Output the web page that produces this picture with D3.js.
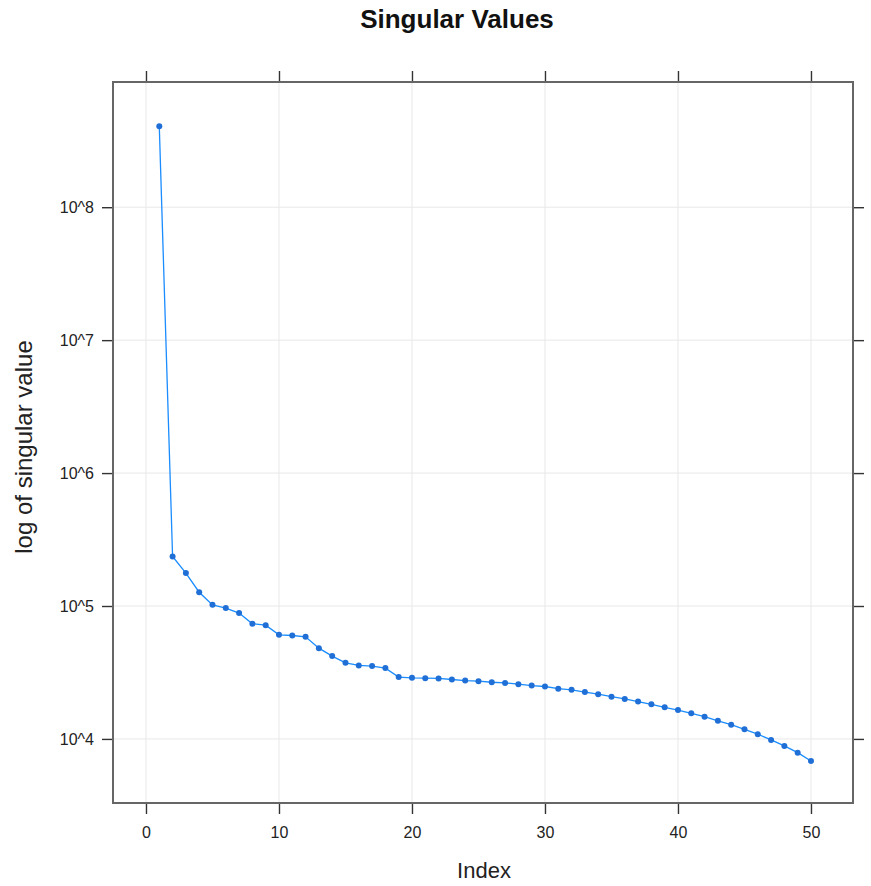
<!DOCTYPE html>
<html>
<head>
<meta charset="utf-8">
<script src="https://cdn.jsdelivr.net/npm/d3@7"></script>
<style>
  html, body { margin: 0; padding: 0; background: #fff; }
  svg { display: block; font-family: "Liberation Sans", Arial, sans-serif; }
</style>
</head>
<body>
<svg id="chart" width="871" height="886"></svg>
<script>
// Singular values by index (log scale)
const indices = d3.range(1, 51);
const singularValues = [
  4.07e8, 2.36e5, 1.77e5, 1.27e5, 1.02e5, 9.65e4, 8.85e4, 7.35e4, 7.18e4, 6.07e4,
  6.00e4, 5.87e4, 4.82e4, 4.20e4, 3.74e4, 3.57e4, 3.53e4, 3.41e4, 2.92e4, 2.88e4,
  2.865e4, 2.85e4, 2.80e4, 2.75e4, 2.72e4, 2.67e4, 2.64e4, 2.58e4, 2.52e4, 2.48e4,
  2.39e4, 2.34e4, 2.25e4, 2.17e4, 2.08e4, 2.00e4, 1.91e4, 1.82e4, 1.73e4, 1.65e4,
  1.56e4, 1.47e4, 1.37e4, 1.28e4, 1.18e4, 1.086e4, 9.83e3, 8.86e3, 7.88e3, 6.83e3
];
const xTicks = [0, 10, 20, 30, 40, 50];
const yTickExps = [4, 5, 6, 7, 8];
const yTickLabels = ["10^4", "10^5", "10^6", "10^7", "10^8"];

const box = { left: 113, right: 853, top: 82, bottom: 803 };

const svg = d3.select("#chart");

const x = d3.scaleLinear().domain([-2.48, 53.16]).range([box.left, box.right]);
const y = d3.scaleLinear().domain([3.518, 8.942]).range([box.bottom, box.top]);

const data = indices.map((i, k) => ({ i, v: singularValues[k] }));

// grid
const grid = svg.append("g").attr("stroke", "#e8e8e8").attr("stroke-width", 1);
xTicks.forEach(t => grid.append("line")
  .attr("x1", x(t)).attr("x2", x(t)).attr("y1", box.top).attr("y2", box.bottom));
yTickExps.forEach(e => grid.append("line")
  .attr("x1", box.left).attr("x2", box.right).attr("y1", y(e)).attr("y2", y(e)));

// axes on all four sides
const axisColor = "#333";
const tickLen = 10;
function styleAxis(g) {
  g.select(".domain").remove();
  g.selectAll(".tick line").attr("stroke", axisColor).attr("stroke-width", 1.4);
  g.selectAll(".tick text").attr("fill", "#222").style("font-size", "16px")
    .style("font-family", "'Liberation Sans', Arial, sans-serif");
}
svg.append("g").attr("transform", `translate(0,${box.bottom + 1})`)
  .call(d3.axisBottom(x).tickValues(xTicks).tickSize(tickLen).tickPadding(13))
  .call(styleAxis);
svg.append("g").attr("transform", `translate(0,${box.top - 1})`)
  .call(d3.axisTop(x).tickValues(xTicks).tickSize(tickLen).tickFormat(""))
  .call(styleAxis);
svg.append("g").attr("transform", `translate(${box.left - 1},0)`)
  .call(d3.axisLeft(y).tickValues(yTickExps).tickSize(tickLen).tickPadding(8)
    .tickFormat((d, k) => yTickLabels[k]))
  .call(styleAxis);
svg.append("g").attr("transform", `translate(${box.right + 1},0)`)
  .call(d3.axisRight(y).tickValues(yTickExps).tickSize(tickLen).tickFormat(""))
  .call(styleAxis);

// panel border
svg.append("rect")
  .attr("x", box.left).attr("y", box.top)
  .attr("width", box.right - box.left).attr("height", box.bottom - box.top)
  .attr("fill", "none").attr("stroke", "#666").attr("stroke-width", 2);

// series line and points
const line = d3.line().x(d => x(d.i)).y(d => y(Math.log10(d.v)));
svg.append("path").datum(data)
  .attr("d", line).attr("fill", "none")
  .attr("stroke", "#1a8cff").attr("stroke-width", 1.3);
svg.append("g").selectAll("circle").data(data).join("circle")
  .attr("cx", d => x(d.i)).attr("cy", d => y(Math.log10(d.v)))
  .attr("r", 3).attr("fill", "#1f6fd6");

// titles
svg.append("text").attr("x", 457).attr("y", 28).attr("text-anchor", "middle")
  .style("font-size", "26px").style("font-weight", "bold").attr("fill", "#111")
  .text("Singular Values");
svg.append("text").attr("x", 484).attr("y", 878).attr("text-anchor", "middle")
  .style("font-size", "22px").attr("fill", "#222")
  .text("Index");
svg.append("text")
  .attr("transform", "translate(32,447) rotate(-90)")
  .attr("text-anchor", "middle")
  .style("font-size", "24px").attr("fill", "#222")
  .text("log of singular value");
</script>
</body>
</html>
